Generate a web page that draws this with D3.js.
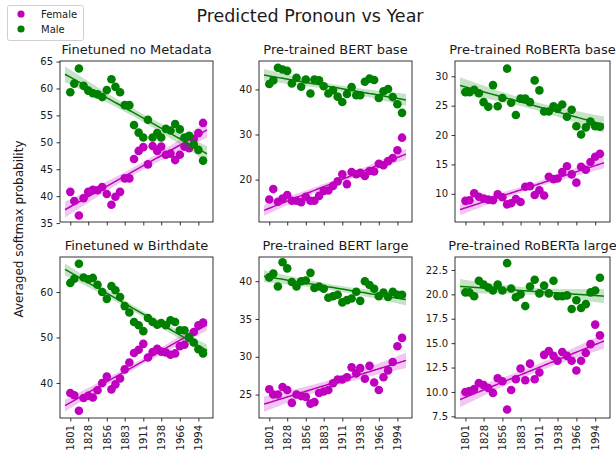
<!DOCTYPE html>
<html>
<head>
<meta charset="utf-8">
<script src="https://cdn.jsdelivr.net/npm/d3@7"></script>
<style>
  body { margin: 0; background: #fff; }
  text { font-family: "DejaVu Sans", sans-serif; fill: #1a1a1a; }
</style>
</head>
<body>
<div id="chart"></div>
<script>
// years on the x axis (30 bins)
const years = [1801, 1807, 1814, 1821, 1828, 1835, 1842, 1849, 1856, 1863,
               1869, 1876, 1883, 1890, 1897, 1904, 1911, 1918, 1925, 1932,
               1938, 1945, 1952, 1959, 1966, 1973, 1980, 1987, 1994, 2001];
const xTickYears = [1801, 1828, 1856, 1883, 1911, 1938, 1966, 1994];

const titles = ["Finetuned no Metadata", "Pre-trained BERT base", "Pre-trained RoBERTa base",
                "Finetuned w Birthdate", "Pre-trained BERT large", "Pre-trained RoBERTa large"];

// Finetuned no Metadata
const femaleNoMeta = [40.8, 39.1, 36.4, 39.6, 40.8, 41.2, 41.1, 41.7, 40.4, 38.4, 39.9, 40.8, 43.3, 43.3, 46.9,
                      48.4, 49.1, 45.9, 49.3, 48.4, 49.2, 47.7, 47.9, 46.7, 47.7, 49.2, 48.9, 50.6, 51.7, 53.6];
const maleNoMeta = [59.3, 60.9, 63.7, 60.5, 59.6, 59.1, 58.9, 58.4, 59.7, 61.7, 60.3, 59.3, 56.9, 56.9, 53.2,
                    51.8, 50.9, 54.2, 50.9, 51.7, 50.9, 52.5, 52.2, 53.4, 52.4, 50.9, 51.2, 49.6, 48.6, 46.6];
// Pre-trained BERT base
const femaleBertBase = [15.6, 17.9, 15.1, 15.8, 16.6, 15.3, 15.3, 15.0, 16.2, 15.3, 15.3, 16.4, 17.5, 17.6, 18.6,
                        19.6, 21.2, 19.0, 21.7, 21.2, 21.5, 20.8, 21.9, 21.8, 23.5, 23.2, 24.1, 24.8, 26.5, 29.3];
const maleBertBase = [41.2, 42.0, 44.8, 44.4, 44.1, 41.3, 42.6, 40.6, 42.2, 39.1, 42.2, 42.0, 40.7, 39.1, 39.8,
                      38.4, 37.2, 39.0, 40.5, 38.7, 38.7, 41.7, 42.4, 42.1, 38.1, 39.6, 40.1, 38.3, 36.7, 34.8];
// Pre-trained RoBERTa base
const femaleRobertaBase = [8.8, 8.9, 10.1, 9.5, 9.2, 9.0, 8.9, 9.9, 9.4, 8.2, 8.4, 9.1, 8.6, 11.2, 11.3,
                           9.8, 10.6, 9.7, 12.9, 12.5, 12.6, 13.7, 14.7, 13.3, 11.9, 14.6, 14.1, 15.4, 16.3, 16.8];
const maleRobertaBase = [27.3, 27.3, 27.7, 27.1, 25.6, 24.8, 28.5, 24.9, 26.3, 31.3, 25.5, 23.4, 26.2, 26.2, 25.6,
                         29.3, 27.6, 24.0, 24.0, 24.9, 24.5, 25.2, 23.1, 24.3, 21.5, 20.1, 21.3, 22.3, 21.5, 21.4];
// Finetuned w Birthdate
const femaleBirthdate = [37.8, 37.3, 33.9, 36.7, 37.2, 36.8, 38.4, 40.0, 41.4, 38.6, 39.7, 41.0, 43.0, 44.5, 46.6,
                         47.3, 48.6, 45.6, 46.8, 47.5, 46.9, 46.7, 46.2, 46.5, 48.1, 48.4, 49.9, 51.2, 52.7, 53.3];
const maleBirthdate = [62.0, 62.9, 66.2, 63.2, 62.8, 63.1, 61.6, 60.0, 58.5, 61.3, 60.4, 58.9, 56.9, 55.5, 53.4,
                       52.7, 51.4, 54.3, 53.4, 52.8, 53.2, 52.7, 53.8, 53.4, 51.6, 51.6, 50.1, 48.9, 47.4, 46.5];
// Pre-trained BERT large
const femaleBertLarge = [25.7, 25.0, 25.0, 26.0, 25.6, 23.9, 25.0, 24.8, 24.7, 23.8, 24.0, 25.2, 25.4, 25.6, 26.5,
                         27.0, 27.0, 27.3, 28.6, 27.8, 28.5, 27.1, 28.8, 26.6, 25.6, 27.3, 28.2, 29.3, 31.4, 32.5];
const maleBertLarge = [40.5, 41.0, 39.3, 42.5, 41.7, 39.9, 39.3, 40.0, 40.1, 41.1, 39.1, 39.3, 39.0, 37.8, 38.0,
                       38.2, 37.2, 37.5, 37.7, 38.6, 37.4, 40.0, 39.5, 39.0, 38.0, 38.5, 37.9, 38.6, 38.2, 38.2];
// Pre-trained RoBERTa large
const femaleRobertaLarge = [10.0, 10.1, 10.3, 10.9, 10.7, 10.4, 9.9, 11.4, 11.1, 8.2, 10.2, 11.3, 12.4, 11.2, 12.9,
                            11.3, 12.0, 13.8, 14.2, 13.7, 13.2, 14.1, 13.7, 13.2, 12.2, 13.2, 14.0, 14.9, 16.9, 15.8];
const maleRobertaLarge = [20.2, 20.2, 19.8, 21.4, 21.0, 20.7, 20.4, 21.0, 20.4, 23.2, 20.6, 19.7, 20.0, 18.8, 20.8,
                          21.5, 20.1, 20.9, 20.1, 21.4, 19.8, 19.8, 19.9, 18.5, 19.4, 18.6, 19.0, 20.2, 20.4, 21.7];

// axis limits and ticks
const yLimits = [[35.2, 65.1], [10.6, 46.3], [5.2, 32.6], [32.3, 67.7], [21.9, 43.2], [7.33, 23.83]];
const yTicks = [[35, 40, 45, 50, 55, 60, 65], [20, 30, 40], [10, 15, 20, 25, 30],
                [40, 50, 60], [25, 30, 35, 40], [7.5, 10, 12.5, 15, 17.5, 20, 22.5]];
const xLimits = [1785.5, 2016];
const fitYears = [1793, 2007];

const femaleSeries = [femaleNoMeta, femaleBertBase, femaleRobertaBase, femaleBirthdate, femaleBertLarge, femaleRobertaLarge];
const maleSeries = [maleNoMeta, maleBertBase, maleRobertaBase, maleBirthdate, maleBertLarge, maleRobertaLarge];

const FEMALE = "#bf00bf", MALE = "#008000";
const width = 616, height = 455;
const colLeft = [60, 259, 455], colWidth = [153, 153, 155];
const rowTop = [61, 257], panelHeight = 161;

const svg = d3.select("#chart").append("svg")
  .attr("width", width)
  .attr("height", height);

// simple least squares + 95% band of the mean
function linearFit(xs, ys) {
  const n = xs.length;
  const mx = d3.mean(xs), my = d3.mean(ys);
  let sxx = 0, sxy = 0;
  xs.forEach((x, i) => { sxx += (x - mx) ** 2; sxy += (x - mx) * (ys[i] - my); });
  const slope = sxy / sxx, intercept = my - slope * mx;
  let sse = 0;
  xs.forEach((x, i) => { const r = ys[i] - (intercept + slope * x); sse += r * r; });
  const s = Math.sqrt(sse / (n - 2));
  return {
    predict: x => intercept + slope * x,
    half: x => 2.048 * s * Math.sqrt(1 / n + (x - mx) ** 2 / sxx)
  };
}

function drawSeries(g, x, y, values, color) {
  g.append("g").selectAll("circle")
    .data(values)
    .enter()
    .append("circle")
    .attr("cx", (d, i) => x(years[i]))
    .attr("cy", d => y(d))
    .attr("r", 4.3)
    .attr("fill", color);

  const fit = linearFit(years, values);
  const xs = d3.range(fitYears[0], fitYears[1] + 0.5, 2);

  g.append("path")
    .datum(xs)
    .attr("d", d3.area()
      .x(d => x(d))
      .y0(d => y(fit.predict(d) - fit.half(d)))
      .y1(d => y(fit.predict(d) + fit.half(d))))
    .attr("fill", color)
    .attr("fill-opacity", 0.22);

  g.append("path")
    .datum(xs)
    .attr("d", d3.line().x(d => x(d)).y(d => y(fit.predict(d))))
    .attr("fill", "none")
    .attr("stroke", color)
    .attr("stroke-width", 1.5);
}

titles.forEach((title, p) => {
  const row = Math.floor(p / 3), col = p % 3;
  const left = colLeft[col], top = rowTop[row], w = colWidth[col], h = panelHeight;

  const x = d3.scaleLinear().domain(xLimits).range([left, left + w]);
  const y = d3.scaleLinear().domain(yLimits[p]).range([top + h, top]);

  const clipId = "clip" + p;
  svg.append("clipPath").attr("id", clipId)
    .append("rect").attr("x", left).attr("y", top).attr("width", w).attr("height", h);

  const plot = svg.append("g").attr("clip-path", `url(#${clipId})`);
  drawSeries(plot, x, y, femaleSeries[p], FEMALE);
  drawSeries(plot, x, y, maleSeries[p], MALE);

  // axes
  const fmt = p === 5 ? d3.format(".1f") : d3.format("d");
  const yAxis = svg.append("g")
    .attr("transform", `translate(${left},0)`)
    .call(d3.axisLeft(y).tickValues(yTicks[p]).tickFormat(fmt).tickSize(3.5).tickPadding(3.5));

  const xAxis = svg.append("g")
    .attr("transform", `translate(0,${top + h})`)
    .call(d3.axisBottom(x).tickValues(xTickYears).tickFormat(d3.format("d")).tickSize(3.5).tickPadding(3.5));

  [xAxis, yAxis].forEach(a => {
    a.select(".domain").remove();
    a.selectAll("line").attr("stroke", "#000").attr("stroke-width", 0.8);
    a.selectAll("text").style("font-size", "10px").attr("fill", "#1a1a1a");
  });

  if (row === 0) {
    xAxis.selectAll("text").remove();
  } else {
    xAxis.selectAll("text")
      .attr("transform", "rotate(-90)")
      .attr("x", -7)
      .attr("y", 0)
      .attr("dy", "0.35em")
      .style("text-anchor", "end");
  }

  // frame
  svg.append("rect")
    .attr("x", left).attr("y", top)
    .attr("width", w).attr("height", h)
    .attr("fill", "none")
    .attr("stroke", "#000")
    .attr("stroke-width", 0.8);

  svg.append("text")
    .attr("x", left + w / 2)
    .attr("y", top - 7)
    .attr("text-anchor", "middle")
    .style("font-size", "13px")
    .text(title);
});

// figure title and y label
svg.append("text")
  .attr("x", 310)
  .attr("y", 22)
  .attr("text-anchor", "middle")
  .style("font-size", "17.5px")
  .text("Predicted Pronoun vs Year");

svg.append("text")
  .attr("transform", "translate(23,229) rotate(-90)")
  .attr("text-anchor", "middle")
  .style("font-size", "12px")
  .text("Averaged softmax probability");

// legend
const legend = svg.append("g");
legend.append("rect")
  .attr("x", 7.5).attr("y", 5.5)
  .attr("width", 76).attr("height", 35)
  .attr("rx", 2)
  .attr("fill", "#fff")
  .attr("stroke", "#d0d0d0");
[["Female", FEMALE], ["Male", MALE]].forEach((item, i) => {
  legend.append("circle")
    .attr("cx", 21).attr("cy", 14 + i * 15)
    .attr("r", 3.6)
    .attr("fill", item[1]);
  legend.append("text")
    .attr("x", 41).attr("y", 17.5 + i * 15)
    .style("font-size", "10px")
    .text(item[0]);
});
</script>
</body>
</html>
